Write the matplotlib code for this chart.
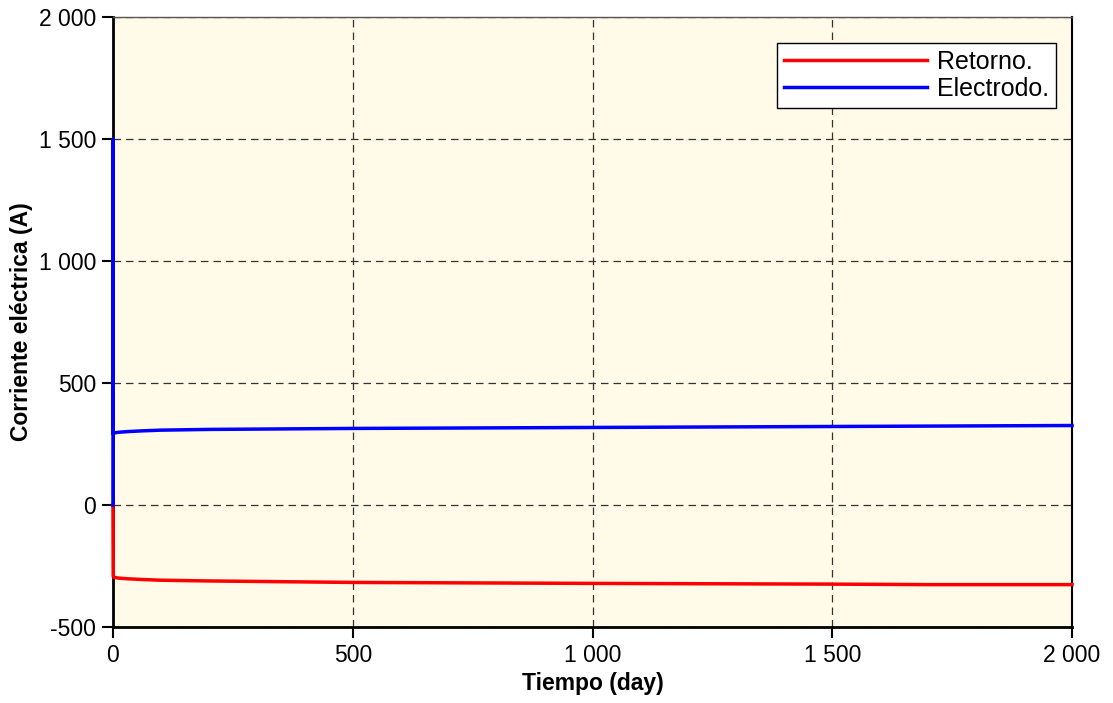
import matplotlib.pyplot as plt
from matplotlib.ticker import FuncFormatter

# Datos
t_ret = [0, 0.5, 2, 10, 30, 60, 100, 200, 500, 1000, 1500, 1700, 2000]
i_ret = [0, -292, -296, -299, -302, -305, -308, -311, -317, -321, -324, -326, -326]

t_ele = [0, 0.3, 0.6, 2, 10, 30, 60, 100, 200, 500, 1000, 1500, 2000]
i_ele = [0, 1500, 292, 295, 298, 301, 304, 307, 310, 314, 318, 322, 326]

plt.rcParams['font.family'] = ['Liberation Sans', 'DejaVu Sans']

fig = plt.figure(figsize=(11.13, 7.03), dpi=100)
ax = fig.add_axes([0.1015, 0.108, 0.8617, 0.8678])
ax.set_facecolor('#fffbe8')

ax.plot(t_ret, i_ret, color='#ff0000', lw=2.5, label='Retorno.', clip_on=False, zorder=4)
ax.plot(t_ele, i_ele, color='#0000ff', lw=2.5, label='Electrodo.', clip_on=False, zorder=4)

ax.set_xlim(0, 2000)
ax.set_ylim(-500, 2000)
ax.set_xticks([0, 500, 1000, 1500, 2000])
ax.set_yticks([-500, 0, 500, 1000, 1500, 2000])

fmt = FuncFormatter(lambda v, p: f"{int(v):,}".replace(",", " "))
ax.xaxis.set_major_formatter(fmt)
ax.yaxis.set_major_formatter(fmt)

ax.grid(True, color='#333333', linestyle=(0, (6, 4)), lw=0.9)
ax.tick_params(labelsize=16.5, length=8, width=1.5, direction='out', pad=4)
ax.spines['left'].set_linewidth(2)
ax.spines['bottom'].set_linewidth(2)
ax.spines['right'].set_linewidth(1.5)
ax.spines['top'].set_linewidth(1)
ax.spines['top'].set_color('#555555')

ax.set_xlabel('Tiempo (day)', fontsize=16.5, fontweight='bold', labelpad=4)
ax.set_ylabel('Corriente eléctrica (A)', fontsize=16.5, fontweight='bold', labelpad=4)

leg = ax.legend(loc='upper right', bbox_to_anchor=(0.983, 0.958), fontsize=18,
                handlelength=5.7, fancybox=False, framealpha=1,
                edgecolor='black', borderaxespad=0, handletextpad=0.4,
                labelspacing=0.12, borderpad=0.28)
leg.get_frame().set_linewidth(1)

fig.savefig('out.png', dpi=100)
